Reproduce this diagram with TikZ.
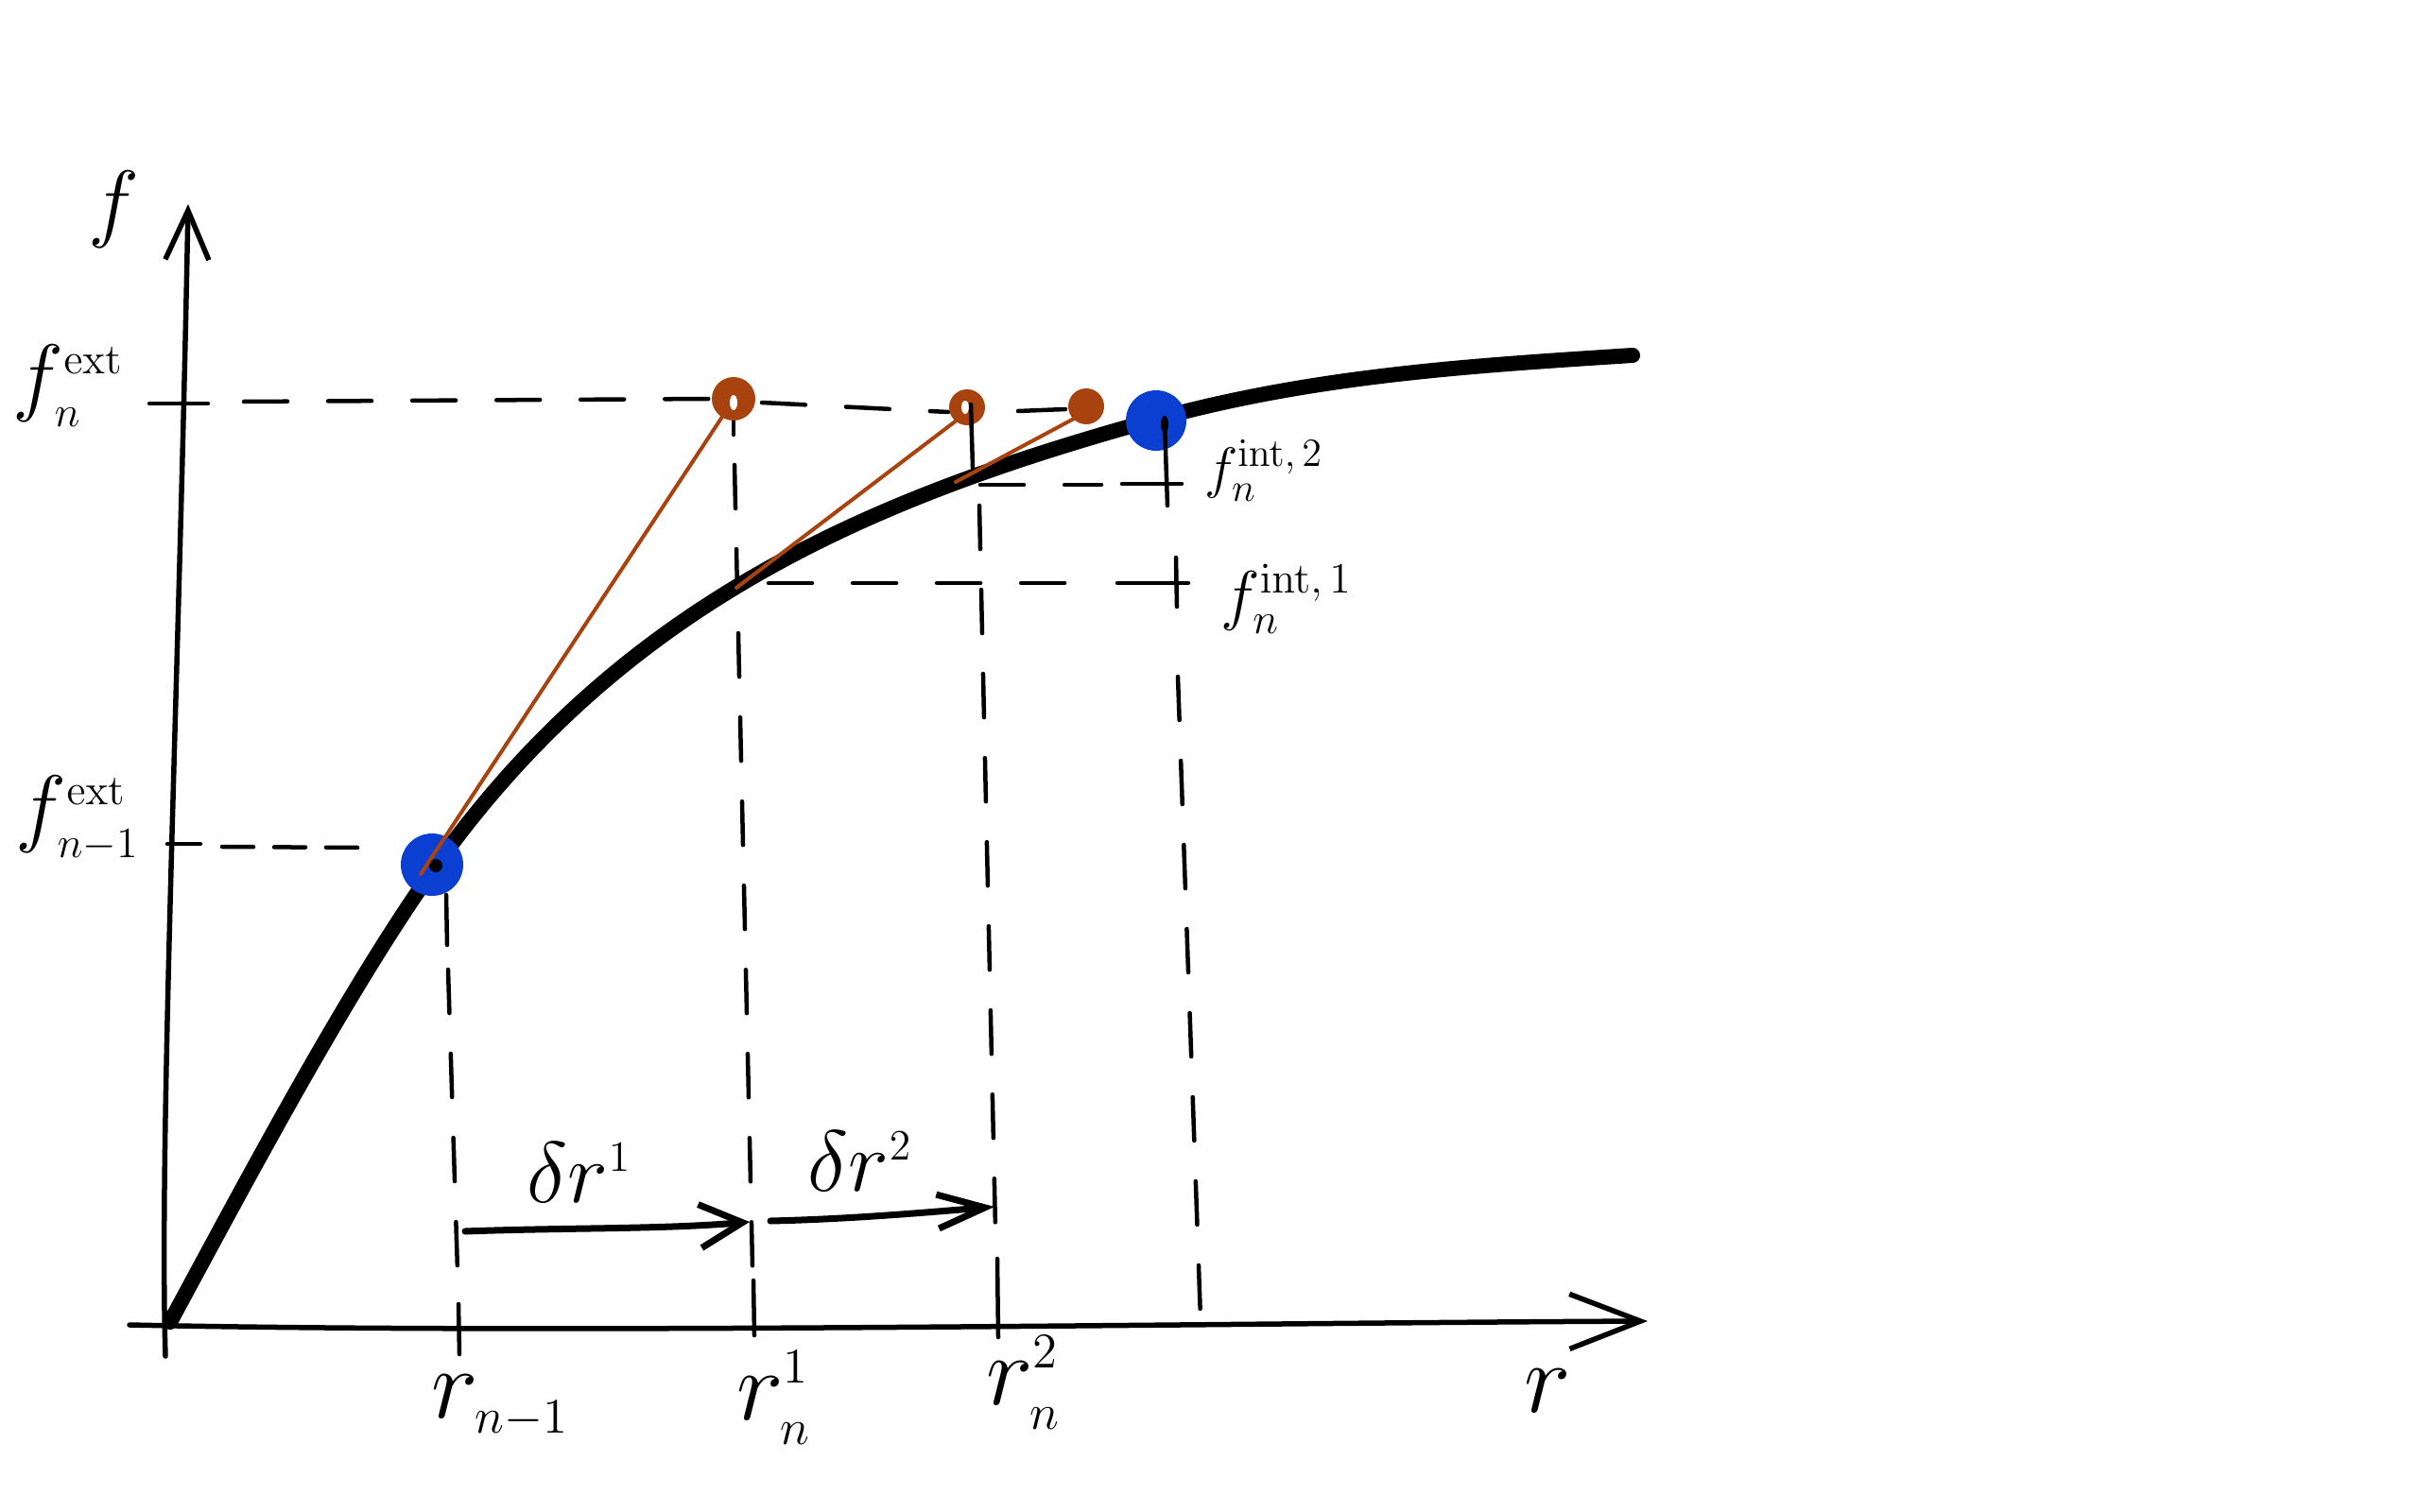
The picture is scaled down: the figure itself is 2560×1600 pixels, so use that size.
\RequirePackage{fix-cm}
\documentclass[tikz,border=0pt]{standalone}
\DeclareMathSizes{17}{17}{12}{9}
\DeclareMathSizes{20}{20}{13}{10}
\DeclareMathSizes{26}{26}{13}{10}
\DeclareMathSizes{30}{30}{15}{11}
\usetikzlibrary{arrows.meta}
\definecolor{dotblue}{HTML}{0A3FD2}
\definecolor{dotbrown}{HTML}{A8420F}
\tikzset{
  axisline/.style={line width=0.55mm},
  guide/.style={line width=0.45mm, dash pattern=on 4.6mm off 4.3mm},
  guideshort/.style={line width=0.45mm, dash pattern=on 3.3mm off 2.2mm},
  tickline/.style={line width=0.45mm},
  curveline/.style={line width=1.6mm, black},
  tangent/.style={line width=0.4mm, dotbrown},
  steparrow/.style={line width=0.7mm},
  labA/.style={inner sep=0pt, font=\fontsize{26}{31}\selectfont},
  labB/.style={inner sep=0pt, font=\fontsize{17}{20}\selectfont},
  labC/.style={inner sep=0pt, font=\fontsize{20}{24}\selectfont},
  labD/.style={inner sep=0pt, font=\fontsize{30}{36}\selectfont},
}
\begin{document}
\begin{tikzpicture}[x=0.01cm, y=-0.01cm, line cap=round, line join=round]
\useasboundingbox (0,0) rectangle (2560,1600);

% key points
\coordinate (O) at (180,1399);
\coordinate (E) at (1727,376);
\coordinate (B1) at (457,915);
\coordinate (B2) at (1223,445);
\coordinate (PA) at (776,422);
\coordinate (PB) at (1023,431);
\coordinate (PC) at (1149,430);

% ---------- guide lines ----------
% f_n^ext level
\draw[tickline] (158,427) -- (220,427);
\draw[guide] (258,425) -- (752,422);
\draw[guide] (806,426) -- (1003,436);
\draw[tickline] (1077,435) -- (1127,433);
% f_{n-1}^ext level
\draw[tickline] (177,893) -- (212,893);
\draw[guideshort] (235,896) -- (382,897);
% r_{n-1}
\draw[tickline] (472,947) -- (473,1000);
\draw[guide] (474,1026) -- (484,1345);
\draw[tickline] (485,1380) -- (486,1433);
% r_n^1
\draw[tickline] (776,440) -- (776,460);
\draw[guide] (777,492) -- (796,1340);
\draw[tickline] (797,1355) -- (798,1413);
% r_n^2
\draw[guide] (1036,535) -- (1053,1300);
\draw[tickline] (1055,1332) -- (1056,1415);
% f_n^{int,1}
\draw[guide] (813,617) -- (1150,617);
\draw[tickline] (1182,617) -- (1257,617);
\draw[tickline] (1244,590) -- (1245,642);
% f_n^{int,2}
\draw[guide] (1037,513) -- (1165,513);
\draw[tickline] (1187,512) -- (1250,512);
% vertical below blue dot 2
\draw[guide] (1246,716) -- (1270,1396);

% ---------- axes ----------
\draw[axisline, -{Straight Barb[length=5.2mm,width=4.6mm]}]
  (175,1435) .. controls (168,1200) and (190,700) .. (199,216);
\draw[axisline, -{Straight Barb[length=7.5mm,width=5.8mm]}]
  (137,1402) .. controls (600,1412) and (1300,1400) .. (1743,1398);

% ---------- curve ----------
\draw[curveline] (O) .. controls (270,1232) and (367,1050) .. (457,922)
  .. controls (657,638) and (921,527) .. (1221,444)
  .. controls (1391,397) and (1557,387) .. (E);

% ---------- blue dots ----------
\fill[dotblue] (B1) circle (33);
\fill[black] (461,916) circle (7);
\fill[dotblue] (B2) circle (32);
\fill[black] (1232,449) ellipse (4 and 9);
\draw[tickline] (1232,447) -- (1235,535);

% ---------- tangent lines ----------
\draw[tangent] (445,925) -- (766,438);
\draw[tangent] (779,622) -- (1013,444);
\draw[tangent] (1011,510) -- (1138,442);

% ---------- brown dots ----------
\fill[dotbrown] (PA) circle (23);
\fill[white] (776,426) ellipse (4 and 8);
\fill[dotbrown] (PB) circle (19);
\fill[white] (1021,431) ellipse (4 and 7);
\draw[tickline] (1027,428) -- (1029,495);
\fill[dotbrown] (PC) circle (19);

% ---------- step arrows ----------
\draw[steparrow, -{Straight Barb[length=4.5mm,width=4.6mm]}]
  (492,1303) .. controls (600,1299) and (700,1301) .. (793,1293);
\draw[steparrow, -{Straight Barb[length=5mm,width=3.6mm]}]
  (815,1292) .. controls (900,1290) and (980,1283) .. (1052,1277);

% ---------- labels ----------
\node[labA] (fax) at (120,222) {$f$};
\node[labA] (fnext) at (72,408) {$f_n^{\mathrm{ext}}$};
\node[labA] (fnmext) at (82,866) {$f_{n-1}^{\mathrm{ext}}$};
\node[labB] (fint2) at (1337,498) {$f_n^{\mathrm{int},\,2}$};
\node[labC] (fint1) at (1361,634) {$f_n^{\mathrm{int},\,1}$};
\node[labA] (dr1) at (613,1241) {$\delta r^1$};
\node[labA] (dr2) at (910,1229) {$\delta r^2$};
\node[labD] (rnm) at (529,1488) {$r_{n-1}$};
\node[labD] (rn1) at (819,1479) {$r_n^1$};
\node[labD] (rn2) at (1083,1463) {$r_n^2$};
\node[labD] (rax) at (1637,1472) {$r$};
\end{tikzpicture}
\end{document}
